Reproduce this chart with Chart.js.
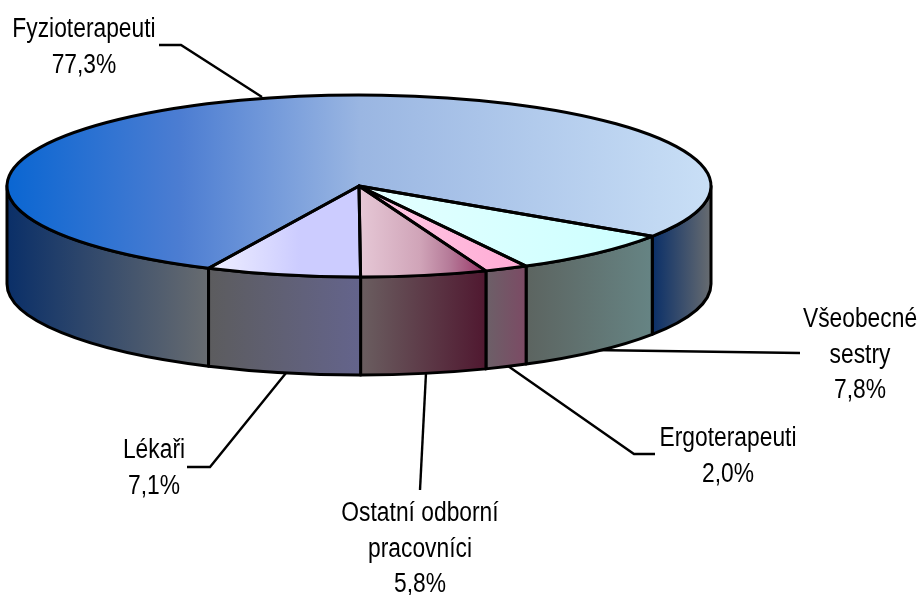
<!DOCTYPE html>
<html>
<head>
<meta charset="utf-8">
<title>Koláčový graf</title>
<script src="https://cdn.jsdelivr.net/npm/chart.js@4"></script>
<style>
  html, body { margin: 0; padding: 0; background: #fff; }
  canvas { display: block; }
</style>
</head>
<body>
<canvas id="chart" width="920" height="595"></canvas>
<script>
// data
const categories = ['Fyzioterapeuti', 'Všeobecné sestry', 'Ergoterapeuti', 'Ostatní odborní pracovníci', 'Lékaři'];
const values = [77.3, 7.8, 2.0, 5.8, 7.1];
const labelLines = [['Fyzioterapeuti'], ['Všeobecné', 'sestry'], ['Ergoterapeuti'], ['Ostatní odborní', 'pracovníci'], ['Lékaři']];

// top face colours (left to right across the slice)
const topColors = [
  [[7, '#0a66d2'], [180, '#4c7dd2'], [360, '#9ab6e2'], [711, '#c9dff6']],
  [[360, '#e4ffff'], [650, '#ccffff']],
  [[400, '#ffc4e2'], [524, '#ffaad4']],
  [[359, '#e6c8d6'], [420, '#d0a4b8'], [450, '#b57a98'], [486, '#993366']],
  [[212, '#eeeeff'], [300, '#ccccff'], [359, '#ccccff']]
];
// side wall colours
const wallColors = [
  ['#0a2f68', '#686c70'],
  ['#5c6460', '#668484'],
  ['#6c6068', '#7c4a64'],
  ['#6a5e60', '#501830'],
  ['#5c5c5e', '#64648c']
];

// ellipse of the tilted pie, in page pixels
const CX = 359, CY = 186, RX = 352, RY = 91, DEPTH = 98;
const FONT = '27px "Liberation Sans", Arial, sans-serif';
const TEXT_SQUEEZE = 0.845, LINE_H = 35.7;

// label centre and leader line per slice
const labelPos = [[84, 30], [860, 319.5], [728, 439], [420, 513.5], [154, 451]];
const leaders = [
  [[159, 45], [181, 45], [262, 97]],
  [[800, 353], [592, 350]],
  [[655, 454], [634, 454], [508, 366]],
  [[420, 490], [426, 373]],
  [[187, 467], [210, 467], [286, 373]]
];

function fit(chart) {
  const a = chart.chartArea;
  const r = Math.min(a.right - a.left, a.bottom - a.top) / 2;
  return { x: (a.left + a.right) / 2, y: (a.top + a.bottom) / 2, r: r };
}

function topGradient(context) {
  const chart = context.chart;
  if (!chart.chartArea) return '#ccc';
  const f = fit(chart);
  const stops = topColors[context.dataIndex];
  // the gradient is used under the tilt transform, so go back to pie coordinates
  const toLocal = px => f.x + (px - CX) * f.r / RX;
  const x0 = stops[0][0], x1 = stops[stops.length - 1][0];
  const g = chart.ctx.createLinearGradient(toLocal(x0), 0, toLocal(x1), 0);
  stops.forEach(s => g.addColorStop((s[0] - x0) / (x1 - x0), s[1]));
  return g;
}

function drawWalls(ctx, arcs) {
  ctx.lineWidth = 3;
  ctx.lineJoin = 'round';
  ctx.strokeStyle = '#000';
  arcs.forEach((arc, i) => {
    // only the part of the slice facing the viewer (0..PI) gets a wall
    for (let k = -1; k <= 1; k++) {
      const lo = k * 2 * Math.PI, hi = lo + Math.PI;
      const a0 = Math.max(arc.startAngle, lo), a1 = Math.min(arc.endAngle, hi);
      if (a1 <= a0) continue;
      const xa = CX + RX * Math.cos(a0), xb = CX + RX * Math.cos(a1);
      const g = ctx.createLinearGradient(Math.min(xa, xb), 0, Math.max(xa, xb), 0);
      g.addColorStop(0, wallColors[i][0]);
      g.addColorStop(1, wallColors[i][1]);
      ctx.beginPath();
      ctx.ellipse(CX, CY, RX, RY, 0, a0, a1);
      ctx.ellipse(CX, CY + DEPTH, RX, RY, 0, a1, a0, true);
      ctx.closePath();
      ctx.fillStyle = g;
      ctx.fill();
      ctx.stroke();
    }
  });
}

const tiltPie = {
  id: 'tiltPie',
  beforeDatasetsDraw(chart) {
    const ctx = chart.ctx;
    const arcs = chart.getDatasetMeta(0).data;
    const f = fit(chart);

    // leader lines sit behind the pie
    ctx.save();
    ctx.strokeStyle = '#000';
    ctx.lineWidth = 2.4;
    leaders.forEach(pts => {
      ctx.beginPath();
      pts.forEach((p, j) => j ? ctx.lineTo(p[0], p[1]) : ctx.moveTo(p[0], p[1]));
      ctx.stroke();
    });
    drawWalls(ctx, arcs);
    ctx.restore();

    ctx.save();
    ctx.translate(CX, CY);
    ctx.scale(RX / f.r, RY / f.r);
    ctx.translate(-f.x, -f.y);
  },
  afterDatasetsDraw(chart) {
    const ctx = chart.ctx;
    ctx.restore();

    // outlines of the top face, after the transform so the width stays even
    ctx.save();
    ctx.strokeStyle = '#000';
    ctx.lineWidth = 3;
    ctx.lineJoin = 'round';
    chart.getDatasetMeta(0).data.forEach(arc => {
      ctx.beginPath();
      ctx.moveTo(CX, CY);
      ctx.ellipse(CX, CY, RX, RY, 0, arc.startAngle, arc.endAngle);
      ctx.closePath();
      ctx.stroke();
    });

    // labels
    ctx.fillStyle = '#000';
    ctx.font = FONT;
    ctx.textAlign = 'center';
    ctx.textBaseline = 'middle';
    values.forEach((v, i) => {
      const lines = labelLines[i].concat(v.toFixed(1).replace('.', ',') + '%');
      lines.forEach((line, j) => {
        ctx.save();
        ctx.translate(labelPos[i][0], labelPos[i][1] + j * LINE_H);
        ctx.scale(TEXT_SQUEEZE, 1);
        ctx.fillText(line, 0, 0);
        ctx.restore();
      });
    });
    ctx.restore();
  }
};

new Chart(document.getElementById('chart'), {
  type: 'pie',
  data: {
    labels: categories,
    datasets: [{
      data: values,
      backgroundColor: topGradient,
      borderWidth: 0,
      clip: false
    }]
  },
  options: {
    responsive: false,
    animation: false,
    rotation: 205.3,
    layout: { padding: 0 },
    plugins: { legend: { display: false }, tooltip: { enabled: false } }
  },
  plugins: [tiltPie]
});
</script>
</body>
</html>
